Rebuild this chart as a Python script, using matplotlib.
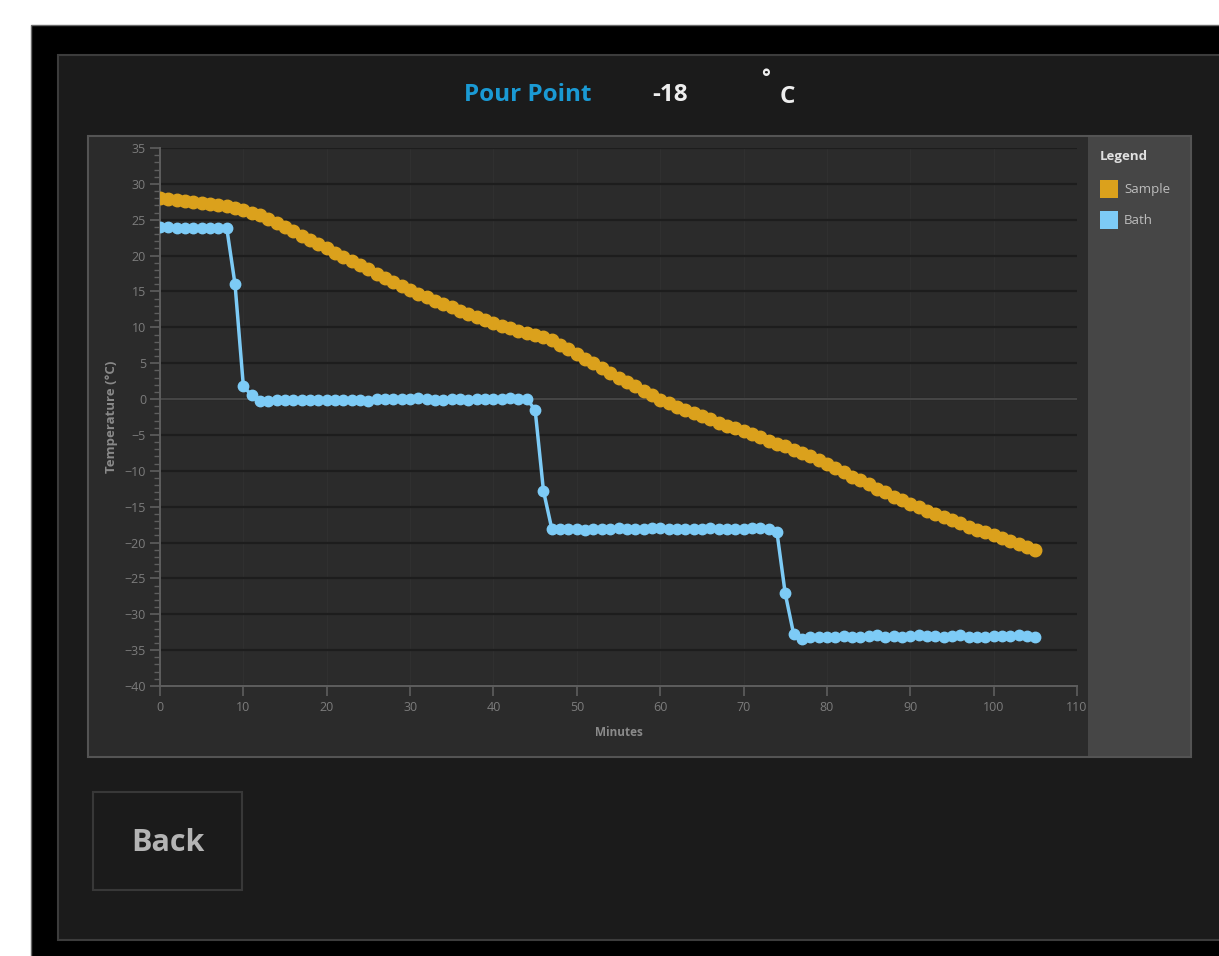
import matplotlib
matplotlib.use('Agg')
import matplotlib.pyplot as plt
from matplotlib.patches import Rectangle, Patch
from matplotlib.ticker import MultipleLocator

plt.rcParams['font.family'] = ['Open Sans', 'DejaVu Sans']

W, H = 1219, 956

# data (one reading per minute)
minutes = list(range(106))

sample = [
    28.0, 27.9, 27.8, 27.6, 27.5, 27.4, 27.2, 27.1, 26.9, 26.7,
    26.4, 26.0, 25.6, 25.1, 24.6, 24.0, 23.4, 22.8, 22.2, 21.6,
    21.0, 20.4, 19.8, 19.2, 18.7, 18.1, 17.5, 16.9, 16.3, 15.7,
    15.2, 14.7, 14.2, 13.7, 13.2, 12.8, 12.3, 11.9, 11.4, 11.0,
    10.6, 10.2, 9.9, 9.5, 9.2, 8.9, 8.6, 8.2, 7.6, 7.0,
    6.3, 5.6, 5.0, 4.3, 3.6, 3.0, 2.4, 1.8, 1.1, 0.5,
    -0.1, -0.6, -1.1, -1.5, -2.0, -2.4, -2.8, -3.3, -3.7, -4.1,
    -4.5, -4.9, -5.3, -5.8, -6.2, -6.6, -7.1, -7.5, -8.0, -8.5,
    -9.0, -9.6, -10.2, -10.8, -11.3, -11.9, -12.5, -13.0, -13.6, -14.1,
    -14.6, -15.1, -15.6, -16.0, -16.5, -16.9, -17.3, -17.8, -18.2, -18.6,
    -19.0, -19.4, -19.8, -20.2, -20.6, -21.0,
]

bath = [
    24.0, 24.0, 23.9, 23.8, 23.8, 23.9, 23.9, 23.9, 23.9,
    16.0, 1.8, 0.5, -0.2,
    -0.2, -0.1, -0.1, -0.1, -0.1, -0.1, -0.1, -0.1, -0.1, -0.1,
    -0.1, -0.1, -0.2, 0.0, 0.0, 0.0, 0.0, 0.0, 0.1, 0.0,
    -0.1, -0.1, 0.0, 0.0, -0.1, 0.0, 0.0, 0.0, 0.0, 0.1,
    0.0, 0.0,
    -1.5, -12.8, -18.1,
    -18.1, -18.1, -18.1, -18.2, -18.1, -18.1, -18.1, -18.0, -18.1, -18.1,
    -18.1, -18.0, -18.0, -18.1, -18.1, -18.1, -18.1, -18.1, -18.0, -18.1,
    -18.1, -18.1, -18.1, -18.0, -18.0, -18.1,
    -18.5, -27.1, -32.7, -33.4,
    -33.1, -33.1, -33.1, -33.1, -33.0, -33.1, -33.1, -33.0, -32.9, -33.1,
    -33.0, -33.1, -33.0, -32.9, -33.0, -33.0, -33.1, -33.0, -32.9, -33.1,
    -33.1, -33.1, -33.0, -33.0, -33.0, -32.9, -33.0, -33.1,
]

pour_point = '-18'
series_names = ['Sample', 'Bath']
series_colors = ['#dba11c', '#7dcbf6']


def box(x0, y0, x1, y1):
    # pixel box (top-left origin) -> figure coords
    return [x0 / W, 1 - y1 / H, (x1 - x0) / W, (y1 - y0) / H]


fig = plt.figure(figsize=(W / 100, H / 100), dpi=100)
fig.patch.set_facecolor('white')

# window frame, drawn under the axes
for (x0, y0, x1, y1, fc, ec, lw) in [
        (31, 25, W + 5, H + 5, 'black', '#6a6a6a', 1.0),
        (58, 55, W + 5, 940, '#1b1b1b', '#3c3c3c', 1.5),
        (88, 136, 1191, 757, '#2b2b2b', '#545454', 1.5),
        (1088, 137, 1190, 756, '#464646', 'none', 0),
        (93, 792, 242, 890, '#1b1b1b', '#383838', 1.5)]:
    b = box(x0, y0, x1, y1)
    fig.patches.append(Rectangle((b[0], b[1]), b[2], b[3],
                                 transform=fig.transFigure,
                                 facecolor=fc, edgecolor=ec, linewidth=lw,
                                 zorder=-5))

# header
fig.text(528 / W, 1 - 95 / H, 'Pour Point', color='#1a9ad4',
         fontsize=17.5, fontweight='bold', ha='center', va='center')
fig.text(670 / W, 1 - 95 / H, pour_point, color='#eeeeee',
         fontsize=17.5, fontweight='bold', ha='center', va='center')
fig.text(766 / W, 1 - 78 / H, '°', color='#eeeeee',
         fontsize=15, fontweight='bold', ha='center', va='center')
fig.text(787 / W, 1 - 97 / H, 'C', color='#eeeeee',
         fontsize=17.5, fontweight='bold', ha='center', va='center')

# back button
fig.text(168 / W, 1 - 843 / H, 'Back', color='#b4b4b4',
         fontsize=22, fontweight='bold', ha='center', va='center')

# chart
ax = fig.add_axes(box(160, 148, 1077, 686))
ax.set_facecolor('#2b2b2b')
ax.set_xlim(0, 110)
ax.set_ylim(-40, 35)
ax.xaxis.set_major_locator(MultipleLocator(10))
ax.yaxis.set_major_locator(MultipleLocator(5))
ax.yaxis.set_minor_locator(MultipleLocator(1))

ax.grid(axis='y', which='major', color='#1d1d1d', linewidth=1.6)
ax.grid(axis='x', which='major', color='#303030', linewidth=1.0)
ax.axhline(0, color='#474747', linewidth=1.4, zorder=1)
ax.set_axisbelow(True)

for side in ['top', 'right']:
    ax.spines[side].set_visible(False)
for side in ['left', 'bottom']:
    ax.spines[side].set_color('#5e5e5e')
    ax.spines[side].set_linewidth(1.4)

ax.tick_params(axis='both', which='major', colors='#5e5e5e', labelcolor='#7c7c7c',
               labelsize=9, length=7, width=1.2)
ax.tick_params(axis='y', which='minor', colors='#5e5e5e', length=4, width=1.0)
ax.tick_params(axis='y', which='major', pad=3)

ax.plot(minutes, sample, '-o', color=series_colors[0], lw=3,
        markersize=9, zorder=3)
ax.plot(minutes, bath, '-o', color=series_colors[1], lw=2.5,
        markersize=7.5, zorder=4)

ax.set_xlabel('Minutes', color='#8a8a8a', fontsize=8.5, fontweight='bold',
              labelpad=9)
ax.set_ylabel('Temperature (°C)', color='#8a8a8a', fontsize=9.5,
              fontweight='bold', labelpad=5)

# legend panel
handles = [Patch(facecolor=c, edgecolor='none') for c in series_colors]
leg = fig.legend(handles, series_names, title='Legend',
                 loc='upper left', bbox_to_anchor=(1100 / W, 1 - 150 / H),
                 frameon=False, fontsize=9.5, title_fontsize=9.5,
                 handlelength=1.36, handleheight=1.72, handletextpad=0.45,
                 labelspacing=1.0, borderaxespad=0, borderpad=0)
leg._legend_box.sep = 12
leg.get_title().set_color('#e0e0e0')
leg.get_title().set_fontweight('bold')
leg._legend_box.align = 'left'
for t in leg.get_texts():
    t.set_color('#bdbdbd')

fig.savefig('out.png', dpi=100, facecolor=fig.get_facecolor())
